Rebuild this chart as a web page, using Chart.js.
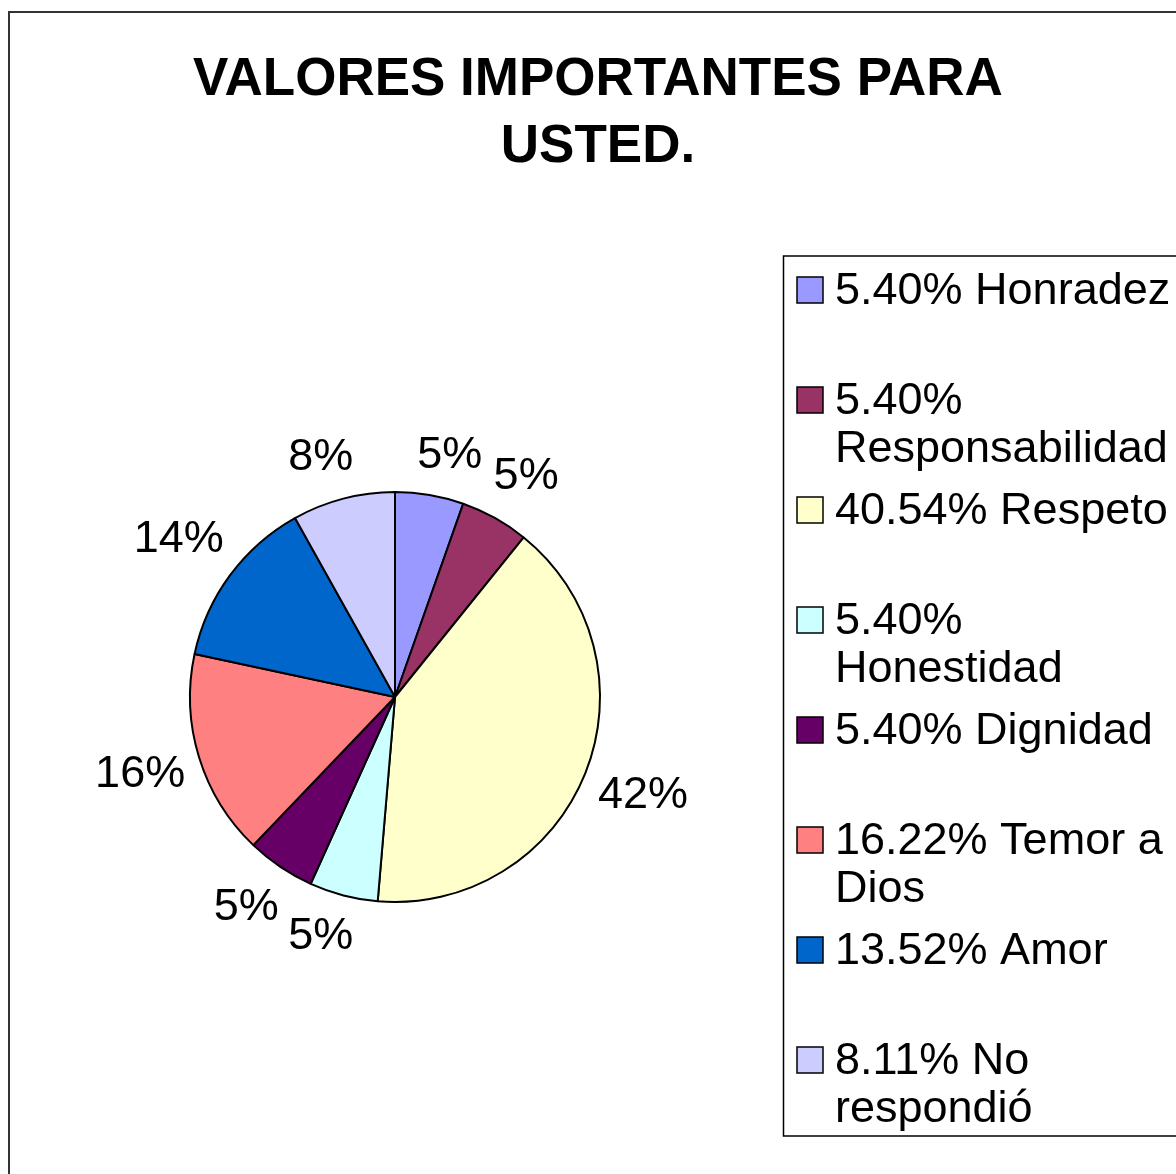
<!DOCTYPE html>
<html>
<head>
<meta charset="utf-8">
<script src="https://cdn.jsdelivr.net/npm/chart.js@4/dist/chart.umd.min.js"></script>
<style>
  html, body { margin: 0; padding: 0; background: #fff; }
  #wrap { width: 1176px; height: 1174px; }
</style>
</head>
<body>
<div id="wrap"><canvas id="chart" width="1176" height="1174"></canvas></div>
<script>
// datos del grafico
const titleLines = ["VALORES IMPORTANTES PARA", "USTED."];
const categories = ["Honradez", "Responsabilidad", "Respeto", "Honestidad", "Dignidad", "Temor a Dios", "Amor", "No respondió"];
const values = [5.40, 5.40, 40.54, 5.40, 5.40, 16.22, 13.52, 8.11];
const sliceLabels = ["5%", "5%", "42%", "5%", "5%", "16%", "14%", "8%"];
// texto de la leyenda, ya partido en lineas como en la imagen
const legendLines = [
  ["5.40% Honradez"],
  ["5.40%", "Responsabilidad"],
  ["40.54% Respeto"],
  ["5.40%", "Honestidad"],
  ["5.40% Dignidad"],
  ["16.22% Temor a", "Dios"],
  ["13.52% Amor"],
  ["8.11% No", "respondió"]
];
const colors = ["#9999FF", "#993366", "#FFFFCC", "#CCFFFF", "#660066", "#FF8080", "#0066CC", "#CCCCFF"];

const FONT = "'Liberation Sans', Arial, sans-serif";

/* marco, titulo, etiquetas y leyenda */
const decoPlugin = {
  id: "deco",
  beforeDraw(chart) {
    const ctx = chart.ctx;
    ctx.save();
    ctx.fillStyle = "#fff";
    ctx.fillRect(0, 0, chart.width, chart.height);
    // marco exterior
    ctx.strokeStyle = "#333";
    ctx.lineWidth = 2;
    ctx.strokeRect(9, 12, 1200, 1200);
    // titulo
    ctx.fillStyle = "#000";
    ctx.font = "bold 53px " + FONT;
    ctx.textAlign = "center";
    ctx.textBaseline = "middle";
    titleLines.forEach((t, i) => ctx.fillText(t, 598, 80 + i * 67));
    ctx.restore();
  },
  afterDraw(chart) {
    const ctx = chart.ctx;
    const arcs = chart.getDatasetMeta(0).data;
    ctx.save();
    ctx.font = "45px " + FONT;
    ctx.fillStyle = "#000";
    ctx.textAlign = "center";
    ctx.textBaseline = "middle";
    arcs.forEach((arc, i) => {
      const mid = (arc.startAngle + arc.endAngle) / 2;
      const ux = Math.cos(mid), uy = Math.sin(mid);
      const w = ctx.measureText(sliceLabels[i]).width;
      const h = 32;
      const d = arc.outerRadius + 20 + Math.abs(ux) * w * 0.42 + Math.abs(uy) * h / 2;
      // las etiquetas cerca del eje vertical se apartan un poco hacia los lados
      const shift = Math.sign(ux) * (1 - Math.abs(ux)) * 16;
      ctx.fillText(sliceLabels[i], arc.x + ux * d + shift, arc.y + uy * d);
    });

    // leyenda
    ctx.strokeStyle = "#000";
    ctx.lineWidth = 1.5;
    ctx.strokeRect(783.5, 256, 500, 880);
    ctx.textAlign = "left";
    legendLines.forEach((lines, i) => {
      const y = 290 + i * 110;
      ctx.fillStyle = colors[i];
      ctx.fillRect(797, y - 13, 26, 26);
      ctx.strokeRect(797, y - 13, 26, 26);
      ctx.fillStyle = "#000";
      lines.forEach((t, j) => ctx.fillText(t, 835, y + 2 + j * 48));
    });
    ctx.restore();
  }
};

new Chart(document.getElementById("chart"), {
  type: "pie",
  data: {
    labels: categories,
    datasets: [{
      data: values,
      backgroundColor: colors,
      borderColor: "#000",
      borderWidth: 2
    }]
  },
  options: {
    responsive: false,
    animation: false,
    layout: { padding: { left: 189, right: 575, top: 491, bottom: 271 } },
    plugins: {
      legend: { display: false },
      title: { display: false },
      tooltip: { enabled: false }
    }
  },
  plugins: [decoPlugin]
});
</script>
</body>
</html>
